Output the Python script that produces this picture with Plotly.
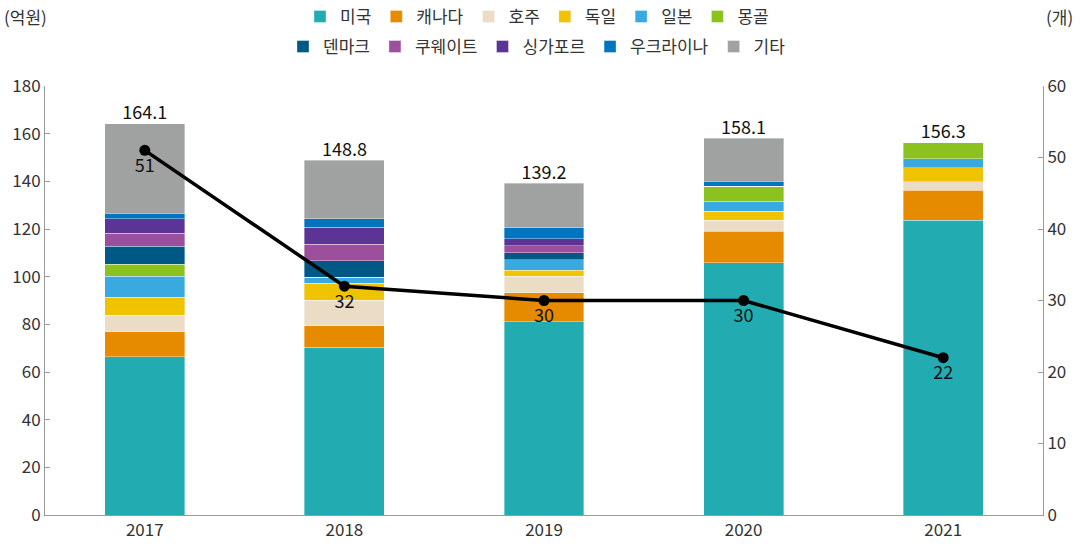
import plotly.graph_objects as go

years = ["2017", "2018", "2019", "2020", "2021"]

countries = ["미국", "캐나다", "호주", "독일", "일본", "몽골",
             "덴마크", "쿠웨이트", "싱가포르", "우크라이나", "기타"]

us = [66.5, 70.4, 81.0, 105.8, 123.6]
canada = [10.3, 9.0, 12.3, 13.3, 12.6]
australia = [7.0, 10.8, 6.9, 4.5, 3.7]
germany = [7.5, 7.0, 2.5, 3.9, 5.8]
japan = [8.9, 2.5, 4.5, 4.2, 3.8]
mongolia = [5.0, 0, 0, 6.3, 6.8]
denmark = [7.5, 6.9, 2.9, 0, 0]
kuwait = [5.6, 7.1, 2.8, 0, 0]
singapore = [5.9, 7.0, 3.1, 0, 0]
ukraine = [2.5, 3.5, 4.5, 2.1, 0]
other = [37.4, 24.6, 18.7, 18.0, 0]

totals = [164.1, 148.8, 139.2, 158.1, 156.3]
counts = [51, 32, 30, 30, 22]

series = [us, canada, australia, germany, japan, mongolia,
          denmark, kuwait, singapore, ukraine, other]
colors = ["#23ABB2", "#E68A00", "#EADCC5", "#F0C300", "#3AA9E0", "#8CC21F",
          "#005985", "#9C4F9C", "#5B3495", "#0074BD", "#A0A2A2"]

FONT = "Noto Sans CJK KR"
TXT = "#333333"

fig = go.Figure()

for i, (name, vals, col) in enumerate(zip(countries, series, colors)):
    fig.add_trace(
        go.Bar(
            x=years,
            y=vals,
            name=name,
            marker_color=col,
            marker_line_color="rgba(255,255,255,0.6)",
            marker_line_width=0.6,
            width=0.4,
            legend="legend" if i < 6 else "legend2",
            hoverinfo="skip",
        )
    )

# totals above bars
fig.add_trace(
    go.Scatter(
        x=years,
        y=totals,
        mode="text",
        text=[f"{t:.1f}" for t in totals],
        textposition="top center",
        textfont=dict(size=18, color="#111111", family=FONT),
        showlegend=False,
        hoverinfo="skip",
    )
)

# count line on right axis
fig.add_trace(
    go.Scatter(
        x=years,
        y=counts,
        yaxis="y2",
        mode="lines+markers+text",
        line=dict(color="black", width=3.5),
        marker=dict(color="black", size=11),
        text=[str(c) for c in counts],
        textposition="bottom center",
        textfont=dict(size=18, color="#111111", family=FONT),
        showlegend=False,
        hoverinfo="skip",
    )
)

fig.update_layout(
    barmode="stack",
    width=1084,
    height=546,
    margin=dict(l=45, r=41, t=86, b=31, autoexpand=False),
    paper_bgcolor="white",
    plot_bgcolor="white",
    font=dict(family=FONT, size=17, color=TXT),
    xaxis=dict(
        showline=True, linecolor="#9a9a9a", linewidth=1,
        ticks="", tickfont=dict(size=17, color=TXT),
    ),
    yaxis=dict(
        range=[0, 180], dtick=20, showgrid=False,
        showline=True, linecolor="#9a9a9a", linewidth=1,
        ticks="inside", ticklen=5, tickcolor="#9a9a9a",
        tickfont=dict(size=17, color=TXT), zeroline=False,
    ),
    yaxis2=dict(
        range=[0, 60], dtick=10, overlaying="y", side="right",
        showgrid=False, showline=True, linecolor="#9a9a9a", linewidth=1,
        ticks="inside", ticklen=5, tickcolor="#9a9a9a",
        tickfont=dict(size=17, color=TXT), zeroline=False,
    ),
    legend=dict(
        orientation="h", x=0.493, xanchor="center", y=1.161, yanchor="middle",
        font=dict(size=17, color=TXT), itemwidth=30, traceorder="normal",
        bgcolor="rgba(0,0,0,0)",
    ),
    legend2=dict(
        orientation="h", x=0.493, xanchor="center", y=1.091, yanchor="middle",
        font=dict(size=17, color=TXT), itemwidth=30, traceorder="normal",
        bgcolor="rgba(0,0,0,0)",
    ),
    annotations=[
        dict(text="(억원)", xref="paper", yref="paper", x=-0.043, y=1.161,
             xanchor="left", yanchor="middle", showarrow=False,
             font=dict(size=17, color=TXT)),
        dict(text="(개)", xref="paper", yref="paper", x=1.032, y=1.161,
             xanchor="right", yanchor="middle", showarrow=False,
             font=dict(size=17, color=TXT)),
    ],
)

fig.write_html(
    "out.html",
    config={"displayModeBar": False},
    post_script="document.body.style.margin='0';",
)
